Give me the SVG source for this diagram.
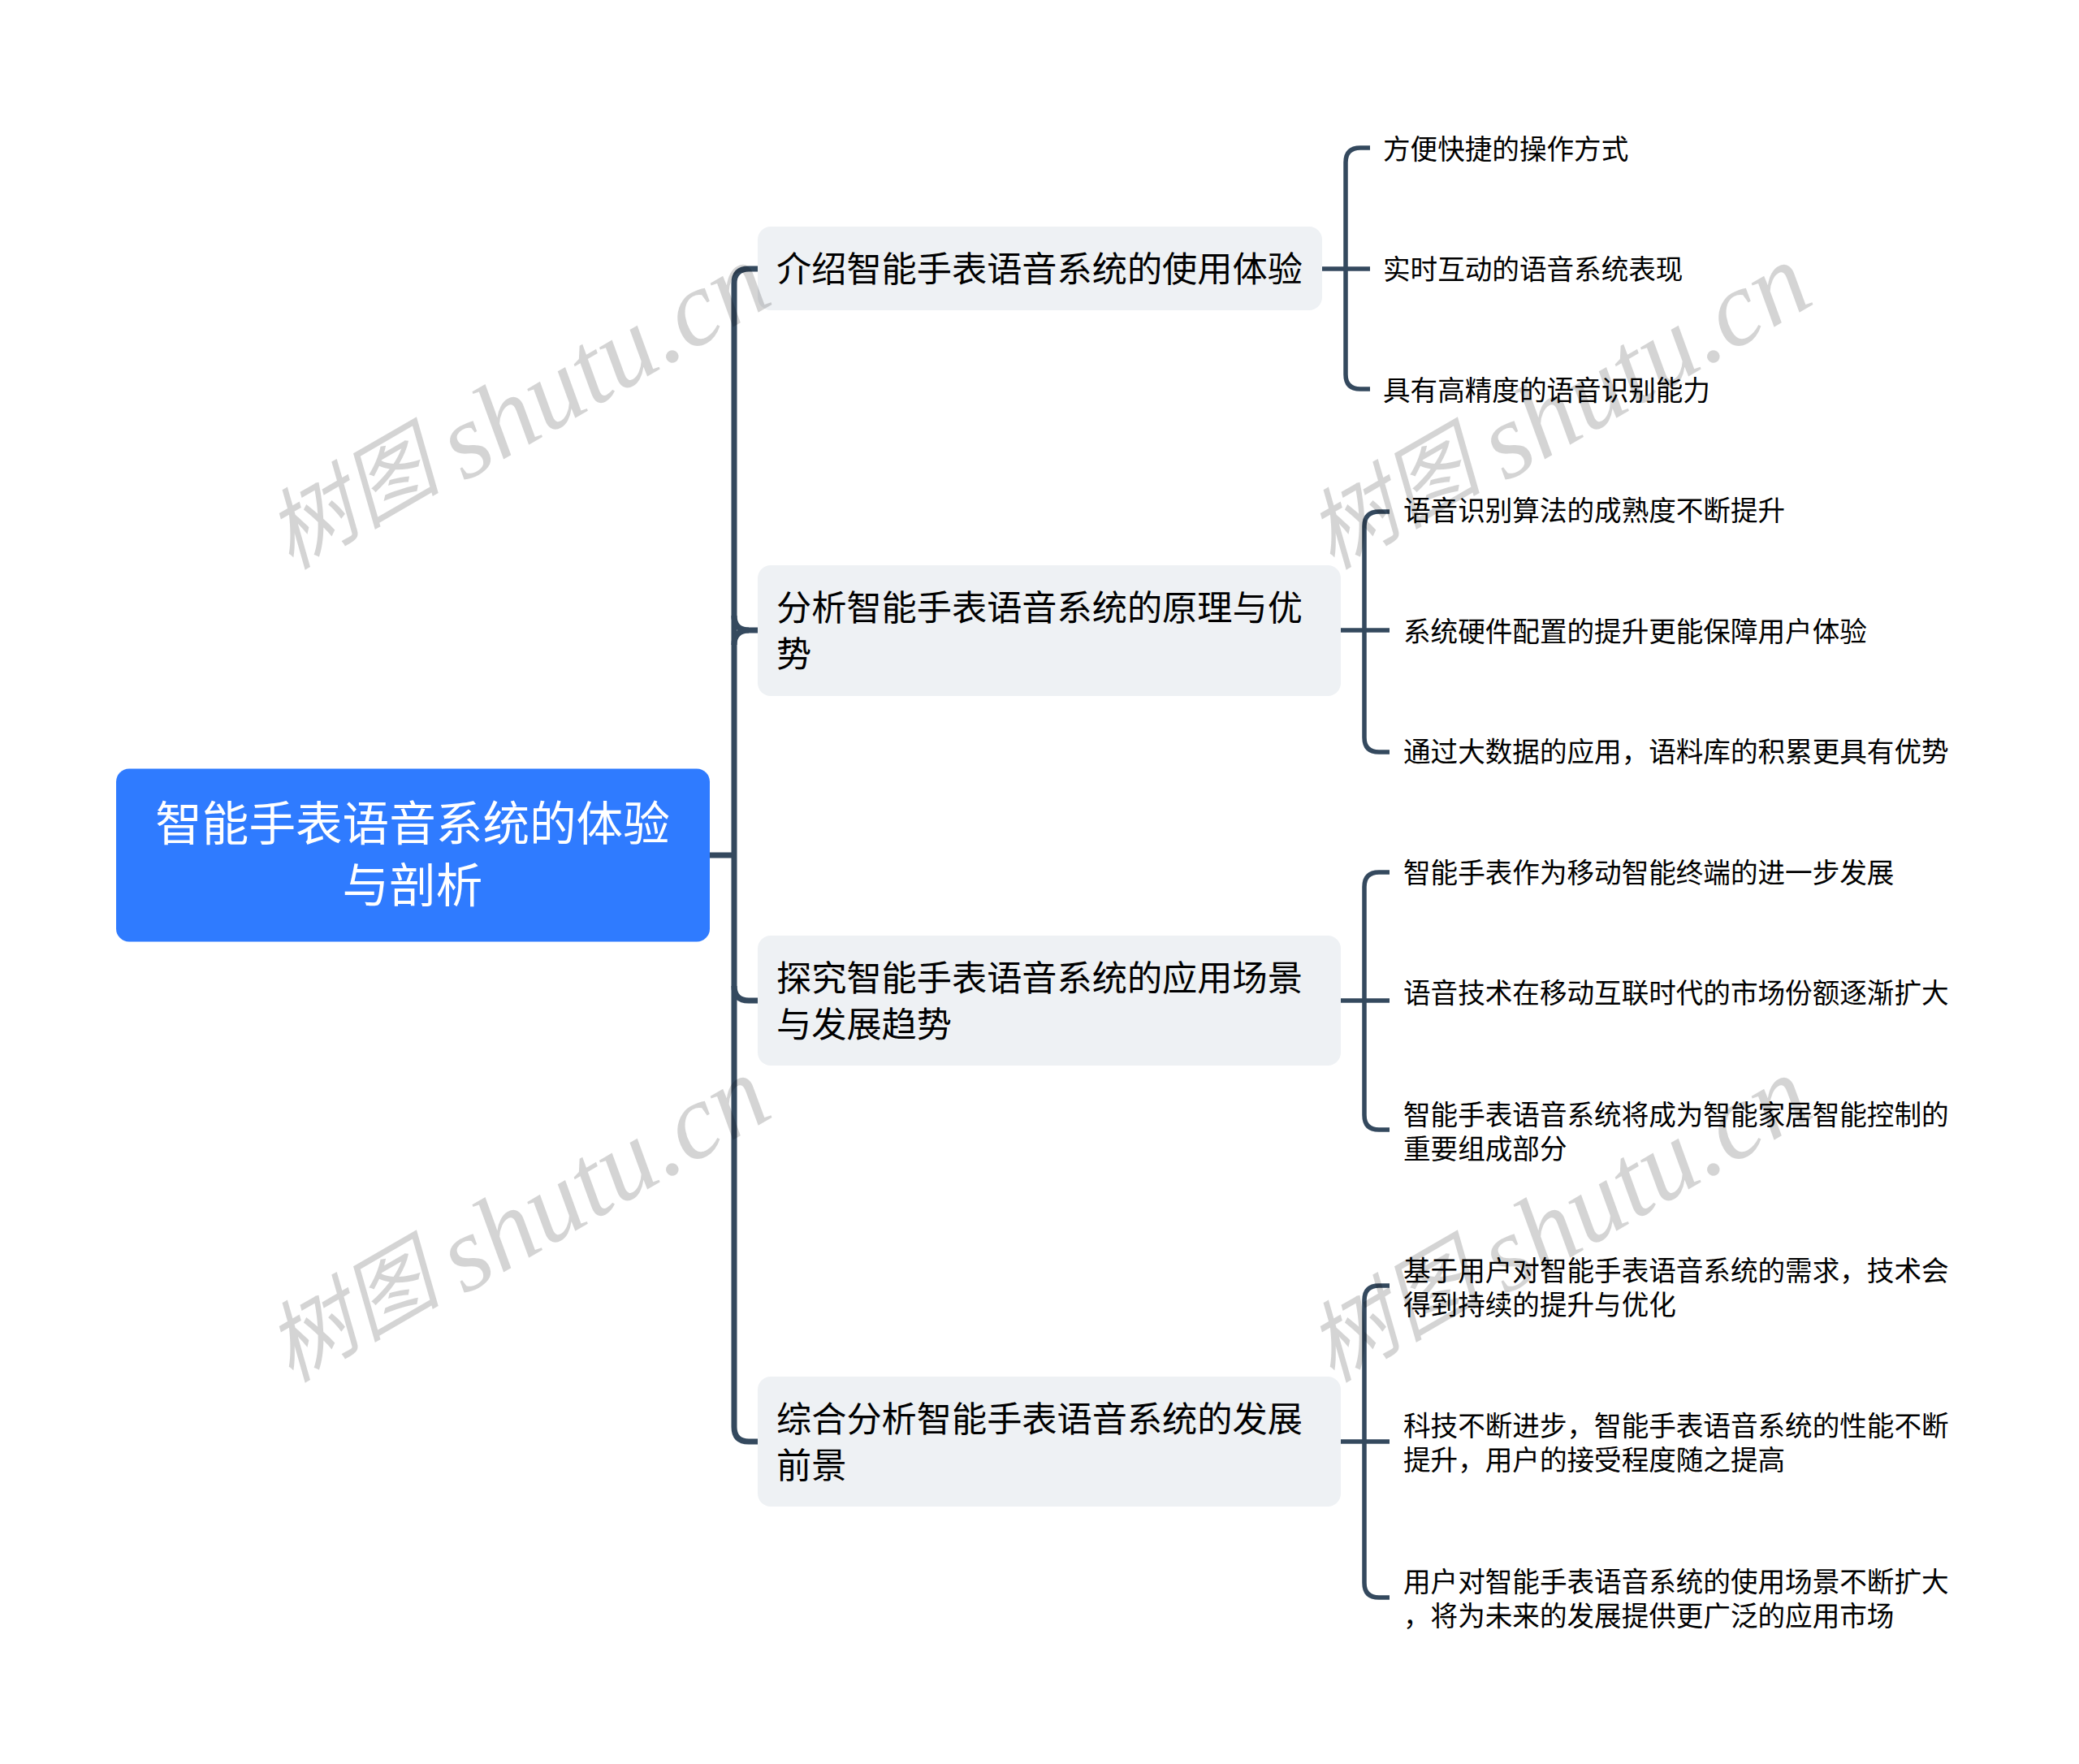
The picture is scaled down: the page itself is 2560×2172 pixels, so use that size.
<svg xmlns="http://www.w3.org/2000/svg" width="2560" height="2172" viewBox="0 0 2560 2172">
<style>
text{font-family:"Noto Sans CJK SC","Liberation Sans",sans-serif;font-weight:400}
.root{fill:#fff;font-size:57.6px;text-anchor:middle}
.sub{fill:#000;font-size:43.2px}
.leaf{fill:#000;font-size:33.6px}
.wm{fill:#000;fill-opacity:.17;font-family:"Liberation Serif","Noto Sans CJK SC",serif;font-style:italic;font-size:132px;font-weight:400}
.wm .c{font-family:"Noto Sans CJK SC",serif;font-size:108px}
.bx{fill:#eef1f4}
#connectors path{fill:none;stroke:#34495e}
.t{stroke-width:7}
.l{stroke-width:5.5}
</style>
<defs>
<text id="mark" class="wm"><tspan class="c">树图</tspan><tspan dx="23" dy="13">shutu.cn</tspan></text>
</defs>
<rect width="2560" height="2172" fill="#fff"/>
<g id="connectors">
<path class="t" d="M873 1053H904"/>
<path class="t" d="M933 331H922Q904 331 904 349V1757Q904 1775 922 1775H933"/>
<path class="t" d="M904 758Q904 776 922 776H933"/>
<path class="t" d="M904 794Q904 776 922 776"/>
<path class="t" d="M904 1214Q904 1232 922 1232H933"/>
<path class="l" d="M1628 331H1687"/>
<path class="l" d="M1687 182H1675Q1657 182 1657 200V461Q1657 479 1675 479H1687"/>
<path class="l" d="M1651 776H1711"/>
<path class="l" d="M1711 630H1698Q1680 630 1680 648V908Q1680 926 1698 926H1711"/>
<path class="l" d="M1651 1232H1711"/>
<path class="l" d="M1711 1074H1698Q1680 1074 1680 1092V1373Q1680 1391 1698 1391H1711"/>
<path class="l" d="M1651 1775H1711"/>
<path class="l" d="M1711 1583H1698Q1680 1583 1680 1601V1949Q1680 1967 1698 1967H1711"/>
</g>
<g id="root"><rect x="143" y="946.500" width="731" height="213" rx="16" fill="#2f7bff"/>
<text class="root" x="508" y="1035">智能手表语音系统的体验</text><text class="root" x="508" y="1111">与剖析</text></g>
<g id="n1"><rect class="bx" x="933" y="279" width="695" height="103" rx="16"/><text class="sub" x="956" y="347">介绍智能手表语音系统的使用体验</text></g>
<g id="n2"><rect class="bx" x="933" y="696" width="718" height="161" rx="16"/><text class="sub" x="956" y="764">分析智能手表语音系统的原理与优</text><text class="sub" x="956" y="821">势</text></g>
<g id="n3"><rect class="bx" x="933" y="1152" width="718" height="160" rx="16"/><text class="sub" x="956" y="1220">探究智能手表语音系统的应用场景</text><text class="sub" x="956" y="1277">与发展趋势</text></g>
<g id="n4"><rect class="bx" x="933" y="1695" width="718" height="160" rx="16"/><text class="sub" x="956" y="1763">综合分析智能手表语音系统的发展</text><text class="sub" x="956" y="1820">前景</text></g>
<g id="l11"><text class="leaf" x="1703" y="196">方便快捷的操作方式</text></g>
<g id="l12"><text class="leaf" x="1703" y="344">实时互动的语音系统表现</text></g>
<g id="l13"><text class="leaf" x="1703" y="493">具有高精度的语音识别能力</text></g>
<g id="l21"><text class="leaf" x="1728" y="641">语音识别算法的成熟度不断提升</text></g>
<g id="l22"><text class="leaf" x="1728" y="790">系统硬件配置的提升更能保障用户体验</text></g>
<g id="l23"><text class="leaf" x="1728" y="938">通过大数据的应用，语料库的积累更具有优势</text></g>
<g id="l31"><text class="leaf" x="1728" y="1087">智能手表作为移动智能终端的进一步发展</text></g>
<g id="l32"><text class="leaf" x="1728" y="1235">语音技术在移动互联时代的市场份额逐渐扩大</text></g>
<g id="l33"><text class="leaf" x="1728" y="1385">智能手表语音系统将成为智能家居智能控制的</text><text class="leaf" x="1728" y="1427">重要组成部分</text></g>
<g id="l41"><text class="leaf" x="1728" y="1577">基于用户对智能手表语音系统的需求，技术会</text><text class="leaf" x="1728" y="1619">得到持续的提升与优化</text></g>
<g id="l42"><text class="leaf" x="1728" y="1768">科技不断进步，智能手表语音系统的性能不断</text><text class="leaf" x="1728" y="1810">提升，用户的接受程度随之提高</text></g>
<g id="l43"><text class="leaf" x="1728" y="1960">用户对智能手表语音系统的使用场景不断扩大</text><text class="leaf" x="1728" y="2002">，将为未来的发展提供更广泛的应用市场</text></g>
<g id="watermarks">
<use href="#mark" transform="translate(358 702) rotate(-30)"/>
<use href="#mark" transform="translate(1640 702) rotate(-30)"/>
<use href="#mark" transform="translate(358 1703) rotate(-30)"/>
<use href="#mark" transform="translate(1640 1703) rotate(-30)"/>
</g>
</svg>
